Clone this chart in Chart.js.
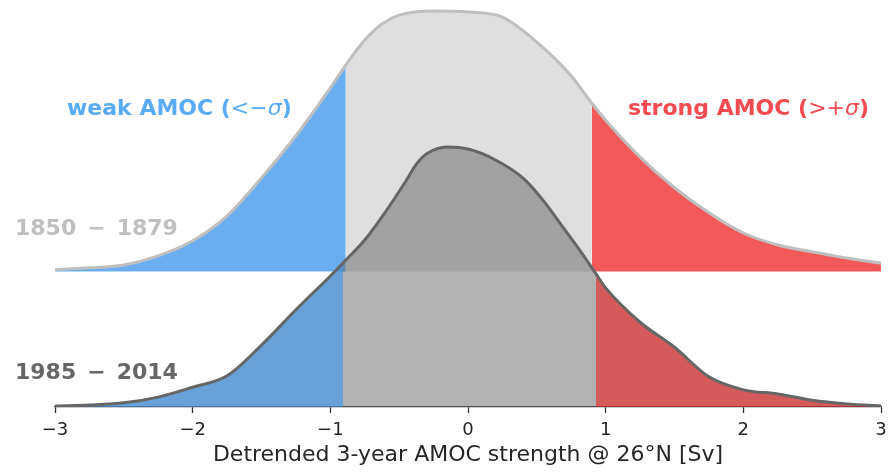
<!DOCTYPE html>
<html><head><meta charset="utf-8">
<script src="https://cdn.jsdelivr.net/npm/chart.js@4.4.1/dist/chart.umd.min.js"></script>
<style>html,body{margin:0;padding:0;background:#fff;}canvas{display:block;}</style>
</head><body>
<canvas id="c" width="891" height="473"></canvas>
<script>
// ---- data ----
const X_TOP = [-3, -2.75, -2.5, -2.25, -2, -1.75, -1.5, -1.25, -1, -0.888, -0.75, -0.625, -0.5, -0.25, 0, 0.25, 0.5, 0.75, 0.898, 1, 1.25, 1.5, 1.75, 2, 2.25, 2.5, 2.75, 3];
const D_TOP = [0.004, 0.007, 0.0125, 0.030, 0.059, 0.107, 0.180, 0.261, 0.353, 0.397, 0.445, 0.476, 0.493, 0.501, 0.499, 0.489, 0.441, 0.376, 0.324, 0.291, 0.220, 0.161, 0.113, 0.074, 0.051, 0.038, 0.026, 0.016];
const X_BOT = [-3, -2.75, -2.5, -2.25, -2, -1.75, -1.5, -1.25, -1, -0.908, -0.75, -0.6, -0.45, -0.375, -0.3, -0.15, 0, 0.2, 0.4, 0.55, 0.7, 0.8, 0.93, 1, 1.25, 1.5, 1.75, 2, 2.25, 2.5, 2.75, 3];
const D_BOT = [0.002, 0.004, 0.008, 0.019, 0.038, 0.060, 0.119, 0.187, 0.252, 0.277, 0.321, 0.375, 0.435, 0.467, 0.487, 0.500, 0.496, 0.475, 0.440, 0.396, 0.342, 0.306, 0.256, 0.229, 0.163, 0.115, 0.058, 0.033, 0.025, 0.013, 0.006, 0.002];
const SIGMA_TOP = [-0.888, 0.898];   // -sigma / +sigma, 1850-1879
const SIGMA_BOT = [-0.908, 0.93];    // -sigma / +sigma, 1985-2014
const OFFSET_TOP = 0.2606;           // vertical offset of the upper ridge
const X_TICKS = [-3, -2, -1, 0, 1, 2, 3];
const PERIODS = ['1850\u2002\u2212\u20021879', '1985\u2002\u2212\u20022014'];
const X_TITLE = 'Detrended 3-year AMOC strength @ 26°N [Sv]';

// ---- helpers ----
function pts(xs, ys, lo, hi, off) {
  return xs.map((x, i) => ({x: x, y: ys[i] + off})).filter(p => p.x >= lo - 1e-9 && p.x <= hi + 1e-9);
}
function fillSet(data, color, base, order) {
  return {data: data, backgroundColor: color, borderWidth: 0, pointRadius: 0,
    fill: {value: base}, cubicInterpolationMode: 'monotone', order: order};
}
function lineSet(data, color, order) {
  return {data: data, borderColor: color, borderWidth: 3, pointRadius: 0, fill: false,
    cubicInterpolationMode: 'monotone', order: order, borderCapStyle: 'round', borderJoinStyle: 'round'};
}

const datasets = [
  // upper ridge (drawn first / behind)
  fillSet(pts(X_TOP, D_TOP, -3, SIGMA_TOP[0], OFFSET_TOP), '#6aaef0', OFFSET_TOP, 10),
  fillSet(pts(X_TOP, D_TOP, SIGMA_TOP[0], SIGMA_TOP[1], OFFSET_TOP), '#dfdfdf', OFFSET_TOP, 10),
  fillSet(pts(X_TOP, D_TOP, SIGMA_TOP[1], 3, OFFSET_TOP), '#f25a5a', OFFSET_TOP, 10),
  lineSet(pts(X_TOP, D_TOP, -3, 3, OFFSET_TOP), '#bfbfbf', 9),
  // lower ridge
  fillSet(pts(X_BOT, D_BOT, -3, SIGMA_BOT[0], 0), 'rgba(66,139,206,0.8)', 0, 8),
  fillSet(pts(X_BOT, D_BOT, SIGMA_BOT[0], SIGMA_BOT[1], 0), 'rgba(102,102,102,0.5)', 0, 8),
  fillSet(pts(X_BOT, D_BOT, SIGMA_BOT[1], 3, 0), 'rgba(202,49,51,0.8)', 0, 8),
  lineSet(pts(X_BOT, D_BOT, -3, 3, 0), '#666666', 7)
];

function drawParts(ctx, x, y, parts, color, align) {
  let total = 0;
  parts.forEach(p => { ctx.font = p[1]; total += ctx.measureText(p[0]).width; });
  let cx = align === 'right' ? x - total : x;
  ctx.fillStyle = color;
  ctx.textAlign = 'left';
  parts.forEach(p => { ctx.font = p[1]; ctx.fillText(p[0], cx, y); cx += ctx.measureText(p[0]).width; });
}

const B = 'bold 22px "DejaVu Sans"', R = '22px "DejaVu Sans"', I = 'oblique 22px "DejaVu Sans"';
const labelPlugin = {
  id: 'ridgeLabels',
  afterDraw(chart) {
    const ctx = chart.ctx;
    ctx.save();
    ctx.textBaseline = 'alphabetic';
    drawParts(ctx, 67, 114.5, [['weak AMOC (', B], ['<\u2212', R], ['\u03c3', I], [')', B]], '#5aabf7', 'left');
    drawParts(ctx, 869, 114.5, [['strong AMOC (', B], ['>+', R], ['\u03c3', I], [')', B]], '#f44b50', 'right');
    drawParts(ctx, 15, 235, [[PERIODS[0], B]], '#bfbfbf', 'left');
    drawParts(ctx, 15, 379, [[PERIODS[1], B]], '#666666', 'left');
    ctx.restore();
  }
};

new Chart(document.getElementById('c'), {
  type: 'line',
  data: {datasets: datasets},
  plugins: [labelPlugin],
  options: {
    responsive: false,
    animation: false,
    events: [],
    layout: {padding: {left: 55, right: 10, top: 0, bottom: 4.6}},
    plugins: {legend: {display: false}, tooltip: {enabled: false}},
    scales: {
      x: {
        type: 'linear', min: -3, max: 3,
        afterBuildTicks: s => { s.ticks = X_TICKS.map(v => ({value: v})); },
        afterFit: s => { s.paddingRight = 0; s.paddingLeft = 0; },
        grid: {display: true, drawOnChartArea: false, drawTicks: true, tickLength: 6, tickWidth: 1.3, tickColor: '#333333'},
        border: {display: true, color: '#333333', width: 1.3},
        ticks: {padding: 7, color: '#262626', font: {family: '"DejaVu Sans"', size: 18, lineHeight: 1.2},
          maxRotation: 0, autoSkip: false,
          callback: v => (v < 0 ? '\u2212' + Math.abs(v) : String(v))},
        title: {display: true, text: X_TITLE, color: '#262626', padding: {top: -6.6, bottom: 0},
          font: {family: '"DejaVu Sans"', size: 22, lineHeight: 1.2}}
      },
      y: {type: 'linear', min: 0, max: 407 / 520, display: false}
    }
  }
});
</script>
</body></html>
